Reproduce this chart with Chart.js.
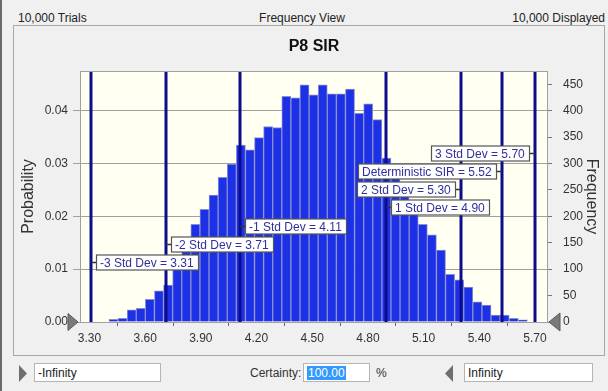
<!DOCTYPE html>
<html lang="en">
<head>
<meta charset="utf-8"/>
<title>P8 SIR - Frequency View</title>
<script src="https://cdn.jsdelivr.net/npm/chart.js@4.4.0/dist/chart.umd.min.js"></script>
<style>
  html, body { margin: 0; padding: 0; }
  body { width: 608px; height: 391px; background: #f0f0f0; position: relative; overflow: hidden;
         font-family: "Liberation Sans", Arial, sans-serif; color: #222; }
  .abs { position: absolute; white-space: nowrap; }
  #edge { left: 0; top: 0; width: 2px; height: 391px; background: #6a6a6a; }
  #panel { left: 13px; top: 25px; width: 590px; height: 329px; border: 1px solid #a8a8a8; background: #f0f0f0; }
  #chartCanvas { position: absolute; left: 14px; top: 26px; }
  #title { left: 80px; width: 468px; top: 37px; text-align: center; font-weight: bold; font-size: 16px; color: #111; }
  .hdr { top: 11px; font-size: 12px; color: #222; }
  .box { height: 19px; background: #fff; border: 1px solid #b4b4b4; font-size: 12px; line-height: 19px; box-sizing: border-box; padding-left: 3px; top: 363px; }
  .lbl { top: 366px; font-size: 12px; color: #333; }
  .sel { background: #3399ff; color: #fff; padding: 0 1px; }
</style>
</head>
<body>
<div class="abs" id="edge"></div>
<div class="abs hdr" style="left:18px">10,000 Trials</div>
<div class="abs hdr" style="left:252px; width:100px; text-align:center">Frequency View</div>
<div class="abs hdr" style="right:3px">10,000 Displayed</div>

<div class="abs" id="panel"></div>
<canvas id="chartCanvas" width="589" height="328"></canvas>
<div class="abs" id="title">P8 SIR</div>

<svg class="abs" style="left:18px; top:365px" width="10" height="17"><polygon points="1,0 9,8.5 1,17" fill="#6e6e6e"/></svg>
<div class="abs box" style="left:34px; width:127px">-Infinity</div>
<div class="abs lbl" style="left:250px">Certainty:</div>
<div class="abs box" style="left:303px; width:67px"><span class="sel">100.00</span></div>
<div class="abs lbl" style="left:376px">%</div>
<svg class="abs" style="left:444px; top:365px" width="10" height="17"><polygon points="9,0 1,8.5 9,17" fill="#6e6e6e"/></svg>
<div class="abs box" style="left:464px; width:129px">Infinity</div>

<script>
// histogram of 10,000 trials, bin width
const binStart = 3.405;
const binWidth = 0.049;
const frequency = [5, 7, 23, 26, 43, 59, 70, 100, 135, 185,
                   213, 240, 274, 299, 335, 326, 349, 370, 368, 427,
                   424, 449, 430, 449, 432, 432, 441, 395, 413, 383,
                   310, 300, 255, 215, 185, 165, 136, 90, 80, 66,
                   38, 32, 13, 13, 7, 4];
const trials = 10000;

// axis ticks
const xTicks = [3.30, 3.60, 3.90, 4.20, 4.50, 4.80, 5.10, 5.40, 5.70];
const probTicks = [0, 0.01, 0.02, 0.03, 0.04];
const freqTicks = [0, 50, 100, 150, 200, 250, 300, 350, 400, 450];
const xMin = 3.249, xMax = 5.770, freqMax = 475;

// marker lines and their labels (label height given in frequency units)
const markerValues = [3.31, 3.71, 4.11, 4.90, 5.30, 5.52, 5.70];
const markerNames = ["-3 Std Dev", "-2 Std Dev", "-1 Std Dev", "1 Std Dev", "2 Std Dev", "Deterministic SIR", "3 Std Dev"];
const markerLabelFreq = [114, 147, 182, 217, 252, 285, 320];
const markerSide = ["right", "right", "right", "right", "left", "left", "left"];

const points = frequency.map((f, i) => ({ x: binStart + binWidth * (i + 0.5), y: f }));

const tickFont = { family: "'Liberation Sans', Arial, sans-serif", size: 12 };
const titleFont = { family: "'Liberation Sans', Arial, sans-serif", size: 16 };

function triangle(ctx, tipX, tipY, dir, w, h) {
  ctx.beginPath();
  ctx.moveTo(tipX, tipY);
  ctx.lineTo(tipX - dir * w, tipY - h / 2);
  ctx.lineTo(tipX - dir * w, tipY + h / 2);
  ctx.closePath();
  ctx.fillStyle = "#7a7a7a";
  ctx.fill();
  ctx.strokeStyle = "#5a5a5a";
  ctx.lineWidth = 1;
  ctx.stroke();
}

const plotFrame = {
  id: "plotFrame",
  beforeDraw(chart) {
    const a = chart.chartArea, ctx = chart.ctx;
    ctx.save();
    ctx.fillStyle = "#fffff2";
    ctx.fillRect(a.left, a.top, a.right - a.left, a.bottom - a.top);
    ctx.restore();
  },
  afterDatasetsDraw(chart) {
    const a = chart.chartArea, ctx = chart.ctx;
    const xs = chart.scales.x, ys = chart.scales.yF;
    ctx.save();
    // marker lines
    ctx.strokeStyle = "#0c0c8c";
    ctx.lineWidth = 3;
    markerValues.forEach(v => {
      const px = Math.round(xs.getPixelForValue(v));
      ctx.beginPath();
      ctx.moveTo(px, a.top);
      ctx.lineTo(px, a.bottom);
      ctx.stroke();
    });
    // plot border
    ctx.strokeStyle = "#a0a0a0";
    ctx.lineWidth = 1;
    ctx.strokeRect(a.left + 0.5, a.top + 0.5, a.right - a.left - 1, a.bottom - a.top);
    // labels
    ctx.font = "12px 'Liberation Sans', Arial, sans-serif";
    ctx.textBaseline = "middle";
    markerValues.forEach((v, i) => {
      const px = xs.getPixelForValue(v);
      const py = Math.round(ys.getPixelForValue(markerLabelFreq[i])) + 0.5;
      const text = markerNames[i] + " = " + v.toFixed(2);
      const w = Math.round(ctx.measureText(text).width) + 8, h = 15;
      const bx = markerSide[i] === "right" ? Math.round(px + 5) : Math.round(px - 6 - w);
      ctx.strokeStyle = "#333";
      ctx.lineWidth = 1.5;
      ctx.beginPath();
      if (markerSide[i] === "right") { ctx.moveTo(px, py); ctx.lineTo(bx, py); }
      else { ctx.moveTo(bx + w, py); ctx.lineTo(px, py); }
      ctx.stroke();
      ctx.fillStyle = "#fff";
      ctx.fillRect(bx, py - h / 2, w, h);
      ctx.strokeStyle = "#555";
      ctx.lineWidth = 1.2;
      ctx.strokeRect(bx + 0.5, py - h / 2, w, h);
      ctx.fillStyle = "#30309a";
      ctx.fillText(text, bx + 4, py + 1);
    });
    // certainty grabbers at both ends of the axis
    triangle(ctx, a.left - 2, a.bottom, 1, 10, 17);
    triangle(ctx, a.right + 1, a.bottom, -1, 11, 18);
    ctx.restore();
  }
};

new Chart(document.getElementById("chartCanvas"), {
  type: "bar",
  data: {
    datasets: [{
      data: points,
      yAxisID: "yF",
      backgroundColor: "#1c30e6",
      borderColor: "#8b8fcf",
      borderWidth: 1,
      barPercentage: 1,
      categoryPercentage: 1
    }]
  },
  options: {
    responsive: false,
    animation: false,
    events: [],
    layout: { padding: { top: 45, left: 0, right: 0, bottom: 0 } },
    plugins: { legend: { display: false }, tooltip: { enabled: false } },
    scales: {
      x: {
        type: "linear", min: xMin, max: xMax, offset: false,
        afterBuildTicks: s => { s.ticks = xTicks.map(v => ({ value: v })); },
        afterFit: s => { s.height = 32; },
        ticks: { font: tickFont, color: "#333", padding: 5, maxRotation: 0, autoSkip: false,
                 callback: v => v.toFixed(2) },
        grid: { drawOnChartArea: false, tickLength: 4, color: "#666" },
        border: { display: false }
      },
      yP: {
        position: "left", min: 0, max: freqMax / trials,
        afterBuildTicks: s => { s.ticks = probTicks.map(v => ({ value: v })); },
        afterFit: s => { s.width = 66; },
        ticks: { font: tickFont, color: "#333", padding: 5, callback: v => v.toFixed(2) },
        grid: { color: "#a0a0a0", tickLength: 7 },
        border: { display: false },
        title: { display: true, text: "Probability", font: titleFont, color: "#333", padding: { top: 5, bottom: 0 } }
      },
      yF: {
        position: "right", min: 0, max: freqMax,
        afterBuildTicks: s => { s.ticks = freqTicks.map(v => ({ value: v })); },
        afterFit: s => { s.width = 55; },
        ticks: { font: tickFont, color: "#333", padding: 6 },
        grid: { drawOnChartArea: false, tickLength: 9, color: "#777", tickBorderDash: [4, 100] },
        border: { display: false },
        title: { display: true, text: "Frequency", font: titleFont, color: "#333", padding: { top: 2, bottom: 0 } }
      }
    }
  },
  plugins: [plotFrame]
});
</script>
</body>
</html>
